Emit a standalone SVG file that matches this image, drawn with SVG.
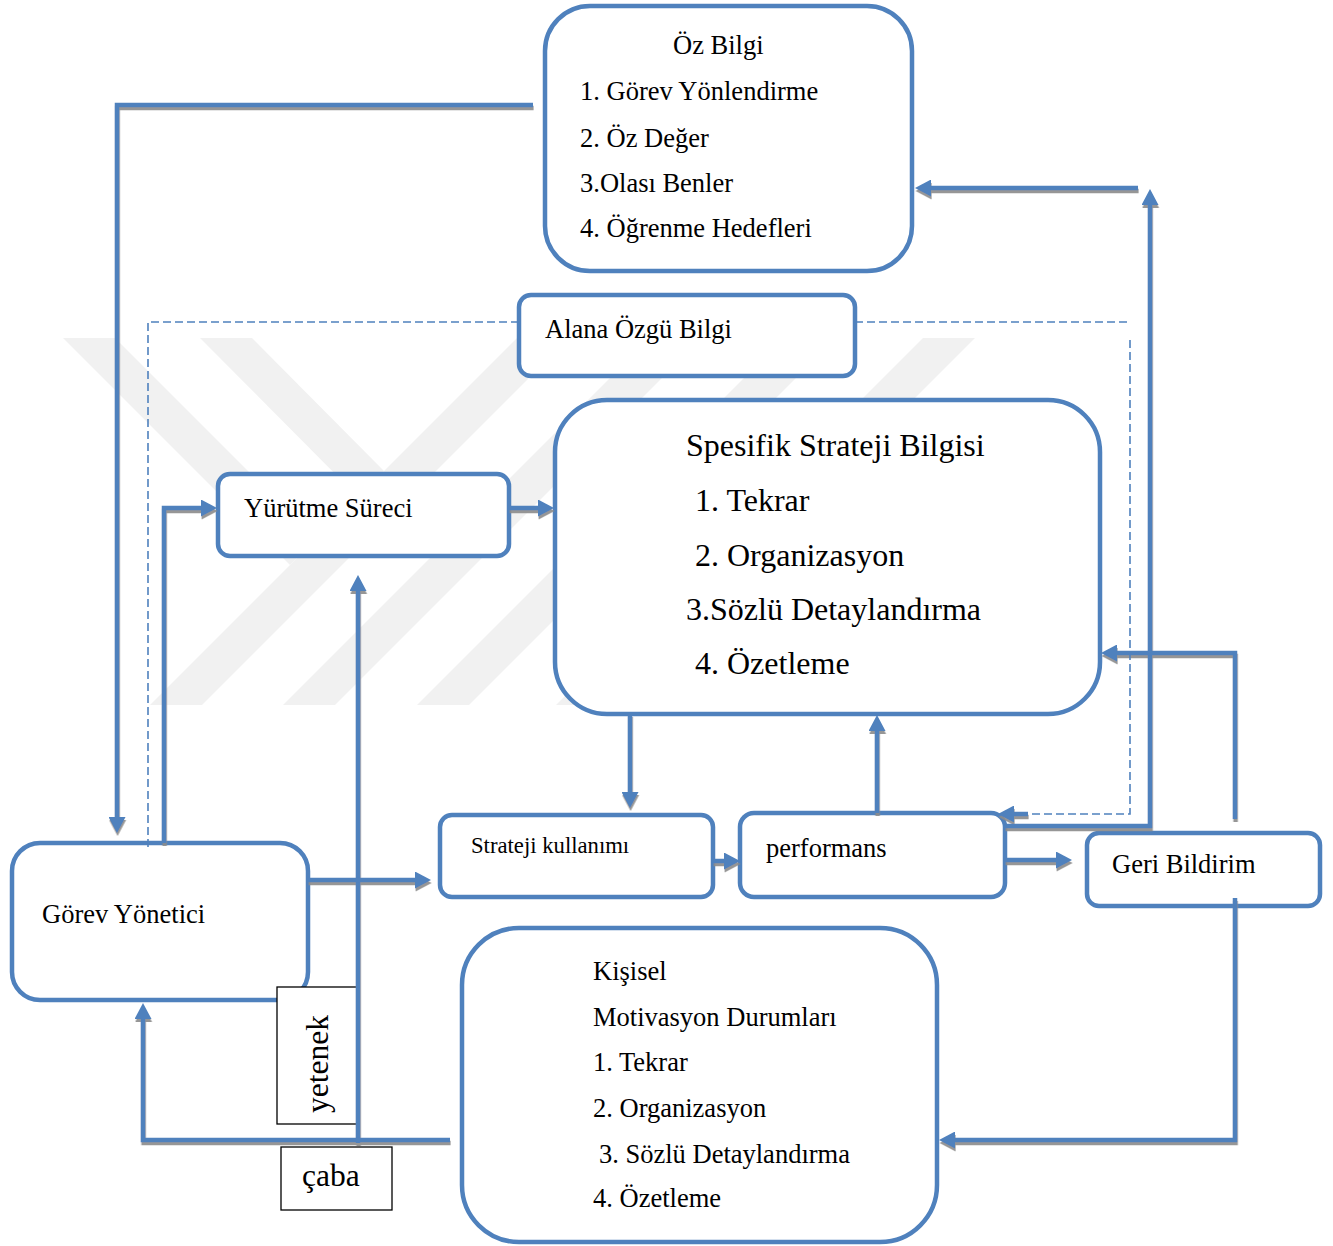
<svg xmlns="http://www.w3.org/2000/svg" width="1333" height="1246" viewBox="0 0 1333 1246">
  <style>
    .box { fill: #ffffff; stroke: #4f81bd; stroke-width: 4.5; }
    .tag { fill: #ffffff; stroke: #000000; stroke-width: 1.3; }
    .t { font-family: "Liberation Serif", "Times New Roman", serif; font-size: 26.5px; fill: #000000; }
    .big { font-size: 32px; }
    .small { font-size: 22.7px; }
    .lbl { font-size: 31.5px; }
    .wire { fill: none; stroke: #4f81bd; stroke-width: 4.5; stroke-linejoin: miter; }
    .dash { fill: none; stroke: #4f81bd; stroke-width: 1.6; stroke-dasharray: 8 4; }
    .wm { fill: #f1f1f1; }
  </style>
  <defs>
    <marker id="head" markerUnits="userSpaceOnUse" viewBox="0 0 16 17" markerWidth="16" markerHeight="17" refX="7" refY="8.5" orient="auto">
      <path d="M0,0 L16,8.5 L0,17 z" fill="#4f81bd"/>
    </marker>
    <filter id="shade" x="-5%" y="-5%" width="110%" height="110%">
      <feDropShadow dx="0.6" dy="3" stdDeviation="0.4" flood-color="#8a8a8a" flood-opacity="0.9"/>
    </filter>
  </defs>

  <rect width="1333" height="1246" fill="#ffffff"/>

  <!-- faint background emblem -->
  <g id="emblem">
    <polygon class="wm" points="150,705 202,705 569,338 517,338"/>
    <polygon class="wm" points="283,705 335,705 702,338 650,338"/>
    <polygon class="wm" points="417,705 469,705 836,338 784,338"/>
    <polygon class="wm" points="556,705 608,705 975,338 923,338"/>
    <polygon class="wm" points="63,338 115,338 316,539 290,565"/>
    <polygon class="wm" points="200,338 252,338 384,471 358,497"/>
  </g>

  <!-- nodes -->
  <g id="oz-bilgi">
    <rect class="box" x="545" y="6" width="367" height="265" rx="45"/>
    <text class="t" x="673" y="54">Öz Bilgi</text>
    <text class="t" x="580" y="100">1. Görev Yönlendirme</text>
    <text class="t" x="580" y="147">2. Öz Değer</text>
    <text class="t" x="580" y="192">3.Olası Benler</text>
    <text class="t" x="580" y="237">4. Öğrenme Hedefleri</text>
  </g>

  <g id="alana-ozgu-bilgi">
    <rect class="box" x="519" y="295" width="336" height="81" rx="12"/>
    <text class="t" x="545" y="338">Alana Özgü Bilgi</text>
  </g>

  <g id="spesifik-strateji">
    <rect class="box" x="555" y="400" width="545" height="314" rx="52"/>
    <text class="t big" x="686" y="456">Spesifik Strateji Bilgisi</text>
    <text class="t big" x="695" y="511">1. Tekrar</text>
    <text class="t big" x="695" y="566">2. Organizasyon</text>
    <text class="t big" x="686" y="620">3.Sözlü Detaylandırma</text>
    <text class="t big" x="695" y="674">4. Özetleme</text>
  </g>

  <g id="yurutme-sureci">
    <rect class="box" x="218" y="474" width="291" height="82" rx="12"/>
    <text class="t" x="244" y="517">Yürütme Süreci</text>
  </g>

  <g id="gorev-yonetici">
    <rect class="box" x="12" y="843" width="296" height="157" rx="28"/>
    <text class="t" x="42" y="923">Görev Yönetici</text>
  </g>

  <g id="strateji-kullanimi">
    <rect class="box" x="440" y="815" width="273" height="82" rx="12"/>
    <text class="t small" x="471" y="853">Strateji kullanımı</text>
  </g>

  <g id="performans">
    <rect class="box" x="740" y="813" width="265" height="84" rx="14"/>
    <text class="t" x="766" y="857">performans</text>
  </g>

  <g id="geri-bildirim">
    <rect class="box" x="1087" y="833" width="233" height="73" rx="12"/>
    <text class="t" x="1112" y="873">Geri Bildirim</text>
  </g>

  <g id="kisisel-motivasyon">
    <rect class="box" x="462" y="928" width="475" height="314" rx="57"/>
    <text class="t" x="593" y="980">Kişisel</text>
    <text class="t" x="593" y="1026">Motivasyon Durumları</text>
    <text class="t" x="593" y="1071">1. Tekrar</text>
    <text class="t" x="593" y="1117">2. Organizasyon</text>
    <text class="t" x="599" y="1163">3. Sözlü Detaylandırma</text>
    <text class="t" x="593" y="1207">4. Özetleme</text>
  </g>

  <g id="yetenek">
    <rect class="tag" x="277" y="987" width="81" height="137"/>
    <text class="t lbl" text-anchor="middle" transform="translate(328,1064) rotate(-90)">yetenek</text>
  </g>

  <g id="caba">
    <rect class="tag" x="281" y="1147" width="111" height="63"/>
    <text class="t lbl" x="302" y="1186">çaba</text>
  </g>

  <!-- connectors -->
  <g id="connectors">
    <g filter="url(#shade)">
      <!-- Öz Bilgi down to Görev Yönetici -->
      <path class="wire" d="M533,105 H117 V824" marker-end="url(#head)"/>
      <!-- feedback into Öz Bilgi -->
      <path class="wire" d="M1138,188 H924" marker-end="url(#head)"/>
      <path class="wire" d="M1005,826 H1150 V198" marker-end="url(#head)"/>
      <!-- Görev Yönetici up to Yürütme Süreci -->
      <path class="wire" d="M164,843 V508 H208" marker-end="url(#head)"/>
      <!-- Yürütme Süreci to Spesifik Strateji -->
      <path class="wire" d="M509,508 H545" marker-end="url(#head)"/>
      <!-- yetenek / çaba up to Yürütme Süreci -->
      <path class="wire" d="M358,1143 V584" marker-end="url(#head)"/>
      <!-- Görev Yönetici to Strateji kullanımı -->
      <path class="wire" d="M308,880 H422" marker-end="url(#head)"/>
      <!-- Spesifik Strateji down to Strateji kullanımı -->
      <path class="wire" d="M630,714 V799" marker-end="url(#head)"/>
      <!-- performans up to Spesifik Strateji -->
      <path class="wire" d="M877,813 V724" marker-end="url(#head)"/>
      <!-- Strateji kullanımı to performans -->
      <path class="wire" d="M713,861 H731" marker-end="url(#head)"/>
      <!-- performans to Geri Bildirim -->
      <path class="wire" d="M1005,860 H1063" marker-end="url(#head)"/>
      <!-- Geri Bildirim up to Spesifik Strateji -->
      <path class="wire" d="M1235,819 V653 H1110" marker-end="url(#head)"/>
      <!-- Geri Bildirim down to Kişisel Motivasyon -->
      <path class="wire" d="M1235,898 V1140 H948" marker-end="url(#head)"/>
      <!-- Kişisel Motivasyon back to Görev Yönetici -->
      <path class="wire" d="M450,1140 H143 V1012" marker-end="url(#head)"/>
      <!-- end of the domain-knowledge loop -->
      <path class="wire" d="M1028,814 H1007" marker-end="url(#head)"/>
    </g>
    <!-- domain-knowledge loop (dashed) -->
    <path class="dash" d="M148,847 V322 H519"/>
    <path class="dash" d="M855,322 H1128"/>
    <path class="dash" d="M1130,340 V814 H1028"/>
  </g>
</svg>
